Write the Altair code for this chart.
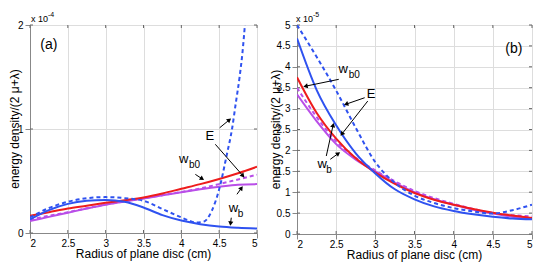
import math
import altair as alt
import pandas as pd

FONT = "Liberation Sans"

# ---------------- data: panel (a)  (values in units of 1e-4) ----------------
xa = [2, 2.25, 2.5, 2.75, 3, 3.25, 3.5, 3.75, 4, 4.25, 4.5, 4.75, 5]
a_wb0 = [0.166, 0.20, 0.235, 0.262, 0.29, 0.315, 0.342, 0.38, 0.425, 0.47, 0.52, 0.575, 0.637]
a_wb = [0.115, 0.155, 0.195, 0.235, 0.272, 0.302, 0.332, 0.362, 0.392, 0.42, 0.445, 0.465, 0.47]
a_wb_dash = [0.13, 0.165, 0.2, 0.237, 0.274, 0.304, 0.334, 0.364, 0.395, 0.428, 0.47, 0.515, 0.56]
a_E = [0.13, 0.22, 0.28, 0.31, 0.318, 0.30, 0.245, 0.172, 0.12, 0.085, 0.062, 0.05, 0.043]
xa_Ed = [2, 2.25, 2.5, 2.75, 3, 3.25, 3.5, 3.75, 4, 4.1, 4.2, 4.3, 4.4, 4.5, 4.6, 4.67, 4.72, 4.77, 4.81, 4.84, 4.88]
a_E_dash = [0.15, 0.24, 0.30, 0.335, 0.345, 0.335, 0.31, 0.23, 0.15, 0.12, 0.10, 0.11, 0.21, 0.42, 0.75, 1.0, 1.25, 1.5, 1.75, 2.0, 2.4]

# ---------------- data: panel (b)  (values in units of 1e-5) ----------------
xb = [2, 2.25, 2.5, 2.75, 3, 3.25, 3.5, 3.75, 4, 4.25, 4.5, 4.75, 5]
b_E = [4.68, 3.45, 2.6, 1.93, 1.45, 1.07, 0.83, 0.66, 0.55, 0.47, 0.41, 0.37, 0.35]
b_E_dash = [5.0, 4.24, 3.43, 2.54, 1.72, 1.22, 0.92, 0.74, 0.62, 0.54, 0.49, 0.57, 0.70]
b_wb0 = [3.75, 2.9, 2.28, 1.81, 1.47, 1.2, 0.98, 0.82, 0.7, 0.6, 0.51, 0.44, 0.38]
b_wb = [3.34, 2.7, 2.15, 1.78, 1.5, 1.23, 1.0, 0.83, 0.7, 0.58, 0.49, 0.41, 0.36]
b_wb_dash = [3.5, 2.8, 2.22, 1.82, 1.52, 1.26, 1.03, 0.86, 0.72, 0.6, 0.5, 0.45, 0.42]

x_ticks = [2, 2.5, 3, 3.5, 4, 4.5, 5]
ya_ticks = [0, 1, 2]
yb_ticks = [0, 0.5, 1, 1.5, 2, 2.5, 3, 3.5, 4, 4.5, 5]

BLUE = "#2f52f0"
RED = "#ee1c1c"
PURPLE = "#b94ee8"

WA, HA = 227, 208
WB, HB = 235, 209

XTITLE = "Radius of plane disc (cm)"
YTITLE = "energy density/(2 \u03bc+\u03bb)"


def xenc():
    return alt.X("x:Q", scale=alt.Scale(domain=[2, 5], nice=False, zero=False),
                 axis=alt.Axis(values=x_ticks, format="~g", title=None, labelPadding=0))


def yenc(domain, ticks):
    return alt.Y("y:Q", scale=alt.Scale(domain=domain, nice=False, zero=False),
                 axis=alt.Axis(values=ticks, format="~g", title=None))


def titles(W, H, ty_x):
    xt = alt.Chart(pd.DataFrame({"t": [XTITLE]})).mark_text(
        font=FONT, fontSize=12, align="center", baseline="middle", color="black").encode(
        x=alt.value(W / 2.0), y=alt.value(H + 21), text="t:N")
    yt = alt.Chart(pd.DataFrame({"t": [YTITLE]})).mark_text(
        font=FONT, fontSize=12, align="center", baseline="middle", angle=270, color="black").encode(
        x=alt.value(ty_x), y=alt.value(H / 2.0), text="t:N")
    return [xt, yt]


def series(xs, ys):
    return pd.DataFrame({"x": xs, "y": ys})


def line(df, color, dashed, X, Y):
    kw = dict(color=color, strokeWidth=2, clip=True, interpolate="monotone")
    if dashed:
        kw["strokeDash"] = [4, 3]
    return alt.Chart(df).mark_line(**kw).encode(x=X, y=Y)


def arrows(specs, sx, sy, X, Y):
    rows_s, rows_h = [], []
    for (x1, y1, x2, y2) in specs:
        dxp = (x2 - x1) * sx
        dyp = -(y2 - y1) * sy
        L = math.hypot(dxp, dyp)
        ang = math.degrees(math.atan2(dyp, dxp)) % 360
        back = 2.5
        hx = x2 - (dxp / L * back) / sx
        hy = y2 + (dyp / L * back) / sy
        rows_s.append({"x": x1, "y": y1, "x2": hx, "y2": hy})
        rows_h.append({"x": hx, "y": hy, "ang": ang})
    shafts = alt.Chart(pd.DataFrame(rows_s)).mark_rule(color="black", strokeWidth=1).encode(
        x=X, y=Y, x2="x2:Q", y2="y2:Q")
    heads = alt.Chart(pd.DataFrame(rows_h)).mark_point(
        shape="triangle-right", filled=True, size=26, color="black", opacity=1).encode(
        x=X, y=Y, angle=alt.Angle("ang:Q", scale=None))
    return [shafts, heads]


def texts(rows, X, Y, size, dx=0, dy=0):
    return alt.Chart(pd.DataFrame(rows)).mark_text(
        font=FONT, fontSize=size, color="black", align="center", baseline="middle",
        dx=dx, dy=dy).encode(x=X, y=Y, text="t:N")


def inward_ticks(W, H, X, Y, yticks):
    dx = pd.DataFrame({"x": x_ticks})
    dy = pd.DataFrame({"y": yticks})
    c = "#666666"
    return [
        alt.Chart(dx).mark_rule(color=c, strokeWidth=1).encode(x=X, y=alt.value(H), y2=alt.value(H - 3)),
        alt.Chart(dx).mark_rule(color=c, strokeWidth=1).encode(x=X, y=alt.value(0), y2=alt.value(3)),
        alt.Chart(dy).mark_rule(color=c, strokeWidth=1).encode(y=Y, x=alt.value(0), x2=alt.value(3)),
        alt.Chart(dy).mark_rule(color=c, strokeWidth=1).encode(y=Y, x=alt.value(W - 3), x2=alt.value(W)),
    ]


def exponent(label, sup, x0):
    base = alt.Chart(pd.DataFrame({"t": [label]})).mark_text(
        font=FONT, fontSize=9, align="left", baseline="middle", color="black").encode(
        x=alt.value(x0), y=alt.value(-6), text="t:N")
    s = alt.Chart(pd.DataFrame({"t": [sup]})).mark_text(
        font=FONT, fontSize=7, align="left", baseline="middle", color="black").encode(
        x=alt.value(x0 + 17), y=alt.value(-10), text="t:N")
    return [base, s]


# ---------------- panel (a) ----------------
XA = xenc()
YA = yenc([0, 2], ya_ticks)
sxa, sya = WA / 3.0, HA / 2.0
layers_a = inward_ticks(WA, HA, XA, YA, ya_ticks) + [
    line(series(xa, a_wb), PURPLE, False, XA, YA),
    line(series(xa, a_wb_dash), PURPLE, True, XA, YA),
    line(series(xa, a_wb0), RED, False, XA, YA),
    line(series(xa, a_E), BLUE, False, XA, YA),
    line(series(xa_Ed, a_E_dash), BLUE, True, XA, YA),
]
layers_a += arrows([
    (4.507, 1.012, 4.66, 1.103),
    (4.449, 0.853, 4.836, 0.532),
    (4.185, 0.564, 4.303, 0.507),
    (4.735, 0.372, 4.814, 0.452),
    (4.66, 0.147, 4.646, 0.067),
], sxa, sya, XA, YA)
layers_a += [
    texts([{"x": 2.25, "y": 1.81, "t": "(a)"}], XA, YA, 14),
    texts([{"x": 4.375, "y": 0.93, "t": "E"}], XA, YA, 13),
    texts([{"x": 4.03, "y": 0.709, "t": "w"}, {"x": 4.69, "y": 0.243, "t": "w"}], XA, YA, 13),
    texts([{"x": 4.03, "y": 0.709, "t": "b0"}], XA, YA, 10, dx=11, dy=6),
    texts([{"x": 4.69, "y": 0.243, "t": "b"}], XA, YA, 10, dx=7, dy=6),
]
layers_a += exponent("x 10", "-4", 1)
layers_a += titles(WA, HA, -15)
panel_a = alt.layer(*layers_a).properties(width=WA, height=HA)

# ---------------- panel (b) ----------------
XB = xenc()
YB = yenc([0, 5], yb_ticks)
sxb, syb = WB / 3.0, HB / 5.0
layers_b = inward_ticks(WB, HB, XB, YB, yb_ticks) + [
    line(series(xb, b_wb), PURPLE, False, XB, YB),
    line(series(xb, b_wb_dash), PURPLE, True, XB, YB),
    line(series(xb, b_wb0), RED, False, XB, YB),
    line(series(xb, b_E), BLUE, False, XB, YB),
    line(series(xb, b_E_dash), BLUE, True, XB, YB),
]
layers_b += arrows([
    (2.533, 3.70, 2.077, 3.524),
    (2.864, 3.26, 2.596, 3.086),
    (2.903, 3.18, 2.553, 2.344),
    (2.374, 1.866, 2.468, 2.663),
    (2.425, 1.787, 2.553, 1.962),
], sxb, syb, XB, YB)
layers_b += [
    texts([{"x": 4.768, "y": 4.42, "t": "(b)"}], XB, YB, 14),
    texts([{"x": 2.945, "y": 3.34, "t": "E"}], XB, YB, 13),
    texts([{"x": 2.59, "y": 3.94, "t": "w"}, {"x": 2.32, "y": 1.667, "t": "w"}], XB, YB, 13),
    texts([{"x": 2.59, "y": 3.94, "t": "b0"}], XB, YB, 10, dx=11, dy=6),
    texts([{"x": 2.32, "y": 1.667, "t": "b"}], XB, YB, 10, dx=7, dy=6),
]
layers_b += exponent("x 10", "-5", -1)
layers_b += titles(WB, HB, -21)
panel_b = alt.layer(*layers_b).properties(width=WB, height=HB)

chart = alt.hconcat(panel_a, panel_b, spacing=11).properties(
    padding={"left": 0, "top": 2, "right": 0, "bottom": 0}
).configure_view(stroke="#8c8c8c", strokeWidth=1).configure_axis(
    grid=False, ticks=False, tickSize=0, domainColor="black", domainWidth=1,
    labelFont=FONT, labelFontSize=9, labelColor="black", labelPadding=2,
).configure(background="white")

chart.save("out.html", embed_options={"renderer": "svg", "actions": False})
